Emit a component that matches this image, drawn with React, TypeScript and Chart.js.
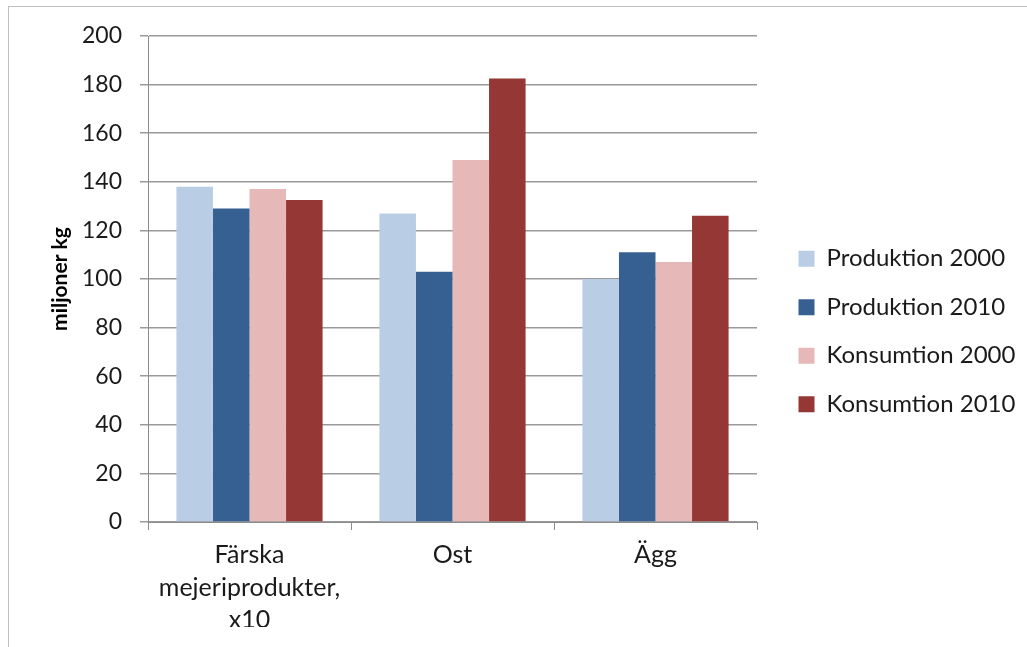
import React, { useEffect, useRef } from "react";
import { Chart, registerables } from "chart.js";

Chart.register(...registerables);

const categories: (string | string[])[] = [
  ["Färska", "mejeriprodukter,", "x10"],
  "Ost",
  "Ägg",
];

const produktion2000 = [138, 127, 100];
const produktion2010 = [129, 103, 111];
const konsumtion2000 = [137, 149, 107];
const konsumtion2010 = [132.5, 182.5, 126];

const seriesNames = ["Produktion 2000", "Produktion 2010", "Konsumtion 2000", "Konsumtion 2010"];
const seriesColors = ["#b9cde5", "#376092", "#e6b9b8", "#953735"];

const yTicks = [0, 20, 40, 60, 80, 100, 120, 140, 160, 180, 200];
const yTitle = "miljoner kg";

const FONT = "Lato, 'Open Sans', sans-serif";
const CANVAS_W = 1018;
const CANVAS_H = 640;
const LEGEND_FONT = 24;
const LEGEND_BOX = 16;
const LEGEND_PAD = 24.5;
// space reserved to the right of the plot area (gap + legend)
const RIGHT_BLOCK = 270;
const GAP = 17;
const Y_AXIS_W = 139;
const Y_TITLE_X = 51;

// Rotated y-axis caption, centred on the plot area.
const yTitlePlugin = {
  id: "yTitle",
  afterDraw(chart: any) {
    const { ctx, chartArea } = chart;
    ctx.save();
    ctx.translate(Y_TITLE_X, (chartArea.top + chartArea.bottom) / 2);
    ctx.rotate(-Math.PI / 2);
    ctx.font = `bold 21px ${FONT}`;
    ctx.fillStyle = "#000";
    ctx.textAlign = "center";
    ctx.textBaseline = "middle";
    ctx.fillText(yTitle, 0, 0);
    ctx.restore();
  },
};

export default function App() {
  const ref = useRef<HTMLCanvasElement | null>(null);

  useEffect(() => {
    if (!ref.current) return;
    const ctx = ref.current.getContext("2d")!;
    ctx.font = `normal ${LEGEND_FONT}px ${FONT}`;
    const textW = Math.max(...seriesNames.map((n) => ctx.measureText(n).width));
    const legendW = LEGEND_PAD + LEGEND_BOX + LEGEND_FONT / 2 + textW + 10;
    const rightPad = Math.max(0, RIGHT_BLOCK - GAP - legendW);

    const values = [produktion2000, produktion2010, konsumtion2000, konsumtion2010];
    const chart = new Chart(ref.current, {
      type: "bar",
      data: {
        labels: categories,
        datasets: values.map((data, i) => ({
          label: seriesNames[i],
          data,
          backgroundColor: seriesColors[i],
          borderWidth: 0,
          barPercentage: 1,
          categoryPercentage: 0.72,
        })),
      },
      plugins: [yTitlePlugin],
      options: {
        responsive: false,
        animation: false,
        layout: { padding: { left: 0, right: rightPad, top: 29, bottom: 20 } },
        plugins: {
          tooltip: { enabled: false },
          legend: {
            position: "right",
            align: "center",
            maxWidth: 400,
            labels: {
              boxWidth: LEGEND_BOX,
              boxHeight: LEGEND_BOX,
              padding: LEGEND_PAD,
              color: "#1a1a1a",
              font: { family: FONT, size: LEGEND_FONT },
            },
          },
        },
        scales: {
          x: {
            grid: {
              display: true,
              drawOnChartArea: false,
              drawTicks: true,
              tickLength: 8,
              color: "#8c8c8c",
              lineWidth: 1,
            },
            border: { display: true, color: "#8c8c8c", width: 1 },
            ticks: {
              color: "#1a1a1a",
              padding: 9,
              maxRotation: 0,
              font: { family: FONT, size: 25, lineHeight: 1.3 },
            },
            afterFit: (s: any) => {
              s.height = CANVAS_H - 20 - 515;
            },
          },
          y: {
            min: 0,
            max: 200,
            afterBuildTicks: (s: any) => {
              s.ticks = yTicks.map((v) => ({ value: v }));
            },
            afterFit: (s: any) => {
              s.width = Y_AXIS_W;
            },
            grid: {
              color: "#9a9a9a",
              lineWidth: 1.5,
              tickLength: 8,
            },
            border: { display: true, color: "#8c8c8c", width: 1 },
            ticks: {
              color: "#1a1a1a",
              padding: 18,
              font: { family: FONT, size: 23, lineHeight: 0.9 },
            },
          },
          pad: {
            type: "linear",
            position: "right",
            display: true,
            grid: { display: false },
            border: { display: false },
            ticks: { display: false },
            afterFit: (s: any) => {
              s.width = GAP;
            },
          },
        },
      } as any,
    });
    return () => chart.destroy();
  }, []);

  return (
    <div
      style={{
        position: "absolute",
        left: 8,
        top: 6,
        width: 1019,
        height: 641,
        borderTop: "1px solid #bfbfbf",
        borderLeft: "1px solid #bfbfbf",
        boxSizing: "border-box",
        background: "#fff",
      }}
    >
      <canvas ref={ref} width={CANVAS_W} height={CANVAS_H} style={{ display: "block" }} />
    </div>
  );
}
